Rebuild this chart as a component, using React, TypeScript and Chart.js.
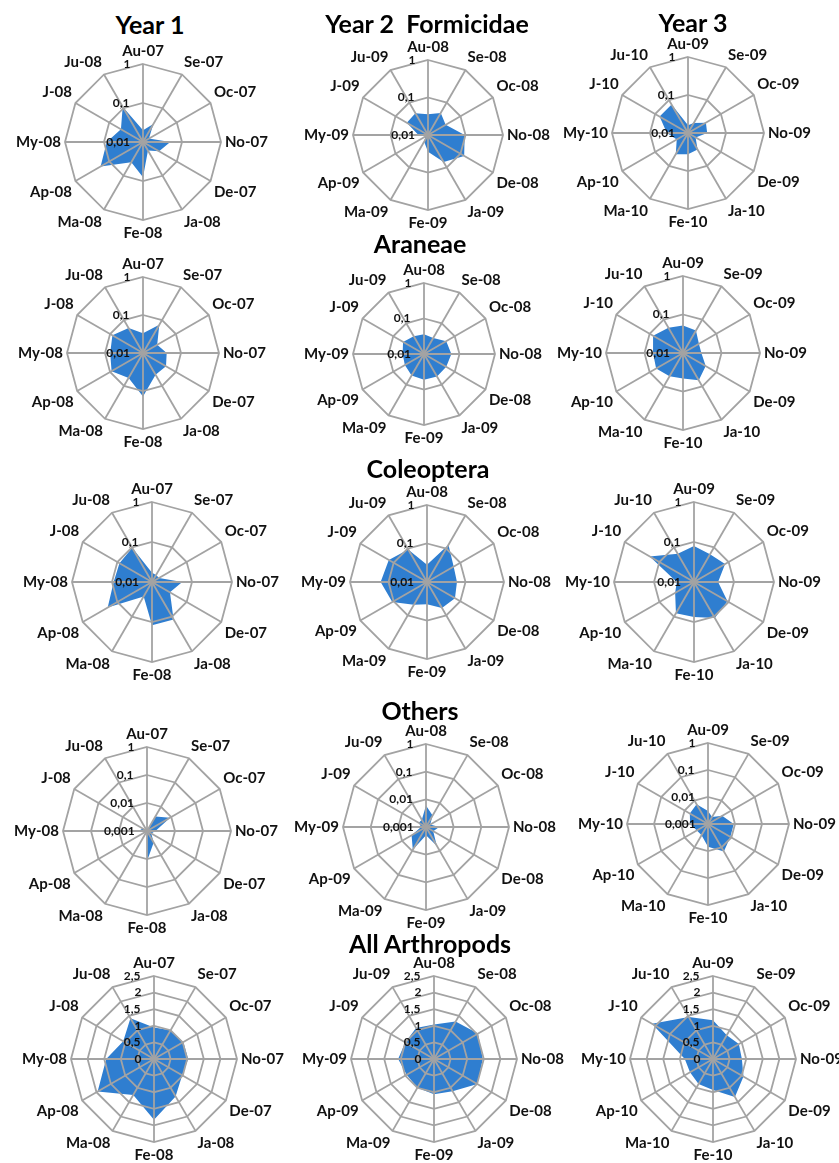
import React, { useEffect, useRef } from "react";
import { Chart, registerables } from "chart.js";

Chart.register(...registerables);

// ---------- categories ----------
const monthsYear1 = ["Au-07", "Se-07", "Oc-07", "No-07", "De-07", "Ja-08", "Fe-08", "Ma-08", "Ap-08", "My-08", "J-08", "Ju-08"];
const monthsYear2 = ["Au-08", "Se-08", "Oc-08", "No-08", "De-08", "Ja-09", "Fe-09", "Ma-09", "Ap-09", "My-09", "J-09", "Ju-09"];
const monthsYear3 = ["Au-09", "Se-09", "Oc-09", "No-09", "De-09", "Ja-10", "Fe-10", "Ma-10", "Ap-10", "My-10", "J-10", "Ju-10"];

// ---------- tick labels ----------
const ticksLog2 = [0.01, 0.1, 1];
const ticksLog3 = [0.001, 0.01, 0.1, 1];
const ticksLinear = [0, 0.5, 1, 1.5, 2, 2.5];

// ---------- series values ----------
const formicidaeY1 = [0.02, 0.034, 0.015, 0.05, 0.03, 0.018, 0.08, 0.04, 0.18, 0.085, 0.045, 0.11];
const formicidaeY2 = [0.036, 0.048, 0.035, 0.095, 0.13, 0.068, 0.028, 0.016, 0.012, 0.018, 0.045, 0.047];
const formicidaeY3 = [0.016, 0.02, 0.035, 0.032, 0.017, 0.032, 0.036, 0.044, 0.022, 0.036, 0.073, 0.073];

const araneaeY1 = [0.033, 0.072, 0.027, 0.042, 0.05, 0.046, 0.14, 0.057, 0.09, 0.073, 0.085, 0.057];
const araneaeY2 = [0.036, 0.033, 0.053, 0.059, 0.053, 0.054, 0.053, 0.05, 0.042, 0.04, 0.048, 0.038];
const araneaeY3 = [0.052, 0.047, 0.03, 0.03, 0.048, 0.066, 0.046, 0.05, 0.064, 0.06, 0.079, 0.057];

const coleopteraY1 = [0.017, 0.016, 0.016, 0.057, 0.033, 0.12, 0.12, 0.026, 0.19, 0.091, 0.087, 0.097];
const coleopteraY2 = [0.028, 0.13, 0.063, 0.06, 0.069, 0.06, 0.038, 0.048, 0.11, 0.16, 0.14, 0.095];
const coleopteraY3 = [0.079, 0.063, 0.079, 0.04, 0.093, 0.11, 0.075, 0.08, 0.035, 0.027, 0.19, 0.065];

const othersY1 = [0.001, 0.004, 0.009, 0.002, 0.0015, 0.003, 0.012, 0.001, 0.001, 0.002, 0.0015, 0.001];
const othersY2 = [0.006, 0.003, 0.0015, 0.003, 0.002, 0.006, 0.002, 0.009, 0.004, 0.0015, 0.002, 0.002];
const othersY3 = [0.003, 0.002, 0.004, 0.009, 0.009, 0.015, 0.007, 0.003, 0.003, 0.0046, 0.006, 0.007];

const allArthropodsY1 = [0.95, 1.0, 1.02, 1.03, 0.98, 1.3, 1.83, 1.25, 1.96, 1.44, 1.07, 1.42];
const allArthropodsY2 = [1.04, 1.3, 1.53, 1.47, 1.51, 1.12, 1.06, 1.0, 0.95, 1.08, 1.0, 1.08];
const allArthropodsY3 = [1.17, 0.83, 0.9, 0.87, 1.06, 1.32, 0.93, 0.87, 0.8, 0.85, 2.12, 1.46];

// ---------- styling ----------
const FONT = "Lato, 'Open Sans', 'DejaVu Sans', sans-serif";
const GRID_COLOR = "#a3a3a3";
const FILL_COLOR = "#2f7ed0";
const CANVAS_W = 380;
const POINT_LABEL_SIZE = 15;
const POINT_LABEL_PAD = -2; // net gap to the ring = TICK_SIZE/2 + pad
const TICK_SIZE = 12;
const TICK_GAP = 13;
const LABEL_LH = POINT_LABEL_SIZE * 1.2;

let measureCtx: CanvasRenderingContext2D | null = null;
function padTick(text: string): string {
  if (!measureCtx) measureCtx = document.createElement("canvas").getContext("2d");
  const ctx = measureCtx as CanvasRenderingContext2D;
  ctx.font = `bold ${TICK_SIZE}px ${FONT}`;
  const w = ctx.measureText(text).width;
  const s = ctx.measureText("\u00a0").width || 3;
  const n = Math.max(0, Math.round((w + 2 * TICK_GAP) / s));
  return text + "\u00a0".repeat(n);
}

function fmt(v: number): string {
  return String(v).replace(".", ",");
}

type PanelProps = {
  labels: string[];
  values: number[];
  ticks: number[];
  log: boolean;
  cx: number;
  cy: number;
  r: number;
};

function RadarPanel({ labels, values, ticks, log, cx, cy, r }: PanelProps) {
  const ref = useRef<HTMLCanvasElement | null>(null);
  // radius = H/2 - TICK_SIZE/2 - (pad + lineHeight)
  const H = 2 * Math.round(r + TICK_SIZE / 2 + POINT_LABEL_PAD + LABEL_LH);

  useEffect(() => {
    if (!ref.current) return;
    const tv = ticks.map((t) => (log ? Math.log10(t) : t));
    const min = log ? tv[0] : -0.0001;
    const max = tv[tv.length - 1];
    const data = values.map((v) => (log ? Math.max(Math.log10(v), min) : v));
    const chart = new Chart(ref.current, {
      type: "radar",
      data: {
        labels,
        datasets: [
          {
            data,
            fill: "start",
            backgroundColor: FILL_COLOR,
            borderWidth: 0,
            borderColor: "rgba(0,0,0,0)",
            pointRadius: 0,
            pointHoverRadius: 0,
          },
        ],
      },
      options: {
        responsive: false,
        maintainAspectRatio: false,
        animation: false,
        events: [],
        layout: { padding: 0 },
        plugins: { legend: { display: false }, tooltip: { enabled: false } },
        scales: {
          r: {
            min,
            max,
            startAngle: 0,
            afterBuildTicks: (scale: any) => {
              scale.ticks = tv.map((v) => ({ value: v }));
            },
            ticks: {
              z: 1,
              showLabelBackdrop: false,
              backdropPadding: 0,
              color: "#111",
              font: { family: FONT, size: TICK_SIZE, weight: "bold" },
              callback: (_v: any, i: number) => padTick(fmt(ticks[i])),
            },
            grid: { color: GRID_COLOR, lineWidth: 1.8, z: 1 },
            angleLines: { color: GRID_COLOR, lineWidth: 1.8 },
            pointLabels: {
              color: "#111",
              padding: POINT_LABEL_PAD,
              font: { family: FONT, size: POINT_LABEL_SIZE, weight: "bold" },
            },
          },
        },
      } as any,
    });
    return () => chart.destroy();
  }, []);

  return (
    <canvas
      ref={ref}
      width={CANVAS_W}
      height={H}
      style={{
        position: "absolute",
        left: cx - CANVAS_W / 2,
        top: cy - H / 2,
        width: CANVAS_W,
        height: H,
        display: "block",
      }}
    />
  );
}

function Title({ text, x, y }: { text: string; x: number; y: number }) {
  return (
    <div
      style={{
        position: "absolute",
        left: x,
        top: y,
        transform: "translate(-50%, -50%)",
        fontFamily: FONT,
        fontWeight: 700,
        fontSize: 25,
        lineHeight: 1,
        whiteSpace: "pre",
        color: "#000",
      }}
    >
      {text}
    </div>
  );
}

export default function App() {
  return (
    <div
      style={{
        position: "absolute",
        left: 0,
        top: 0,
        width: 839,
        height: 1163,
        overflow: "hidden",
        background: "#fff",
      }}
    >
      <RadarPanel labels={monthsYear1} values={formicidaeY1} ticks={ticksLog2} log cx={143} cy={142} r={78} />
      <RadarPanel labels={monthsYear2} values={formicidaeY2} ticks={ticksLog2} log cx={428} cy={135} r={75} />
      <RadarPanel labels={monthsYear3} values={formicidaeY3} ticks={ticksLog2} log cx={688} cy={133} r={76} />

      <RadarPanel labels={monthsYear1} values={araneaeY1} ticks={ticksLog2} log cx={143} cy={353} r={76} />
      <RadarPanel labels={monthsYear2} values={araneaeY2} ticks={ticksLog2} log cx={424} cy={354} r={71} />
      <RadarPanel labels={monthsYear3} values={araneaeY3} ticks={ticksLog2} log cx={683} cy={353} r={77} />

      <RadarPanel labels={monthsYear1} values={coleopteraY1} ticks={ticksLog2} log cx={152} cy={582} r={80} />
      <RadarPanel labels={monthsYear2} values={coleopteraY2} ticks={ticksLog2} log cx={427} cy={582} r={77} />
      <RadarPanel labels={monthsYear3} values={coleopteraY3} ticks={ticksLog2} log cx={694} cy={582} r={80} />

      <RadarPanel labels={monthsYear1} values={othersY1} ticks={ticksLog3} log cx={147} cy={831} r={84} />
      <RadarPanel labels={monthsYear2} values={othersY2} ticks={ticksLog3} log cx={426} cy={827} r={83} />
      <RadarPanel labels={monthsYear3} values={othersY3} ticks={ticksLog3} log cx={708} cy={824} r={81} />

      <RadarPanel labels={monthsYear1} values={allArthropodsY1} ticks={ticksLinear} log={false} cx={154} cy={1059} r={83} />
      <RadarPanel labels={monthsYear2} values={allArthropodsY2} ticks={ticksLinear} log={false} cx={434} cy={1059} r={83} />
      <RadarPanel labels={monthsYear3} values={allArthropodsY3} ticks={ticksLinear} log={false} cx={713} cy={1059} r={83} />

      <Title text="Year 1" x={150} y={24} />
      <Title text={"Year 2  Formicidae"} x={427} y={23} />
      <Title text="Year 3" x={693} y={22} />
      <Title text="Araneae" x={420} y={243} />
      <Title text="Coleoptera" x={428} y={468} />
      <Title text="Others" x={420} y={710} />
      <Title text="All Arthropods" x={430} y={943} />
    </div>
  );
}
